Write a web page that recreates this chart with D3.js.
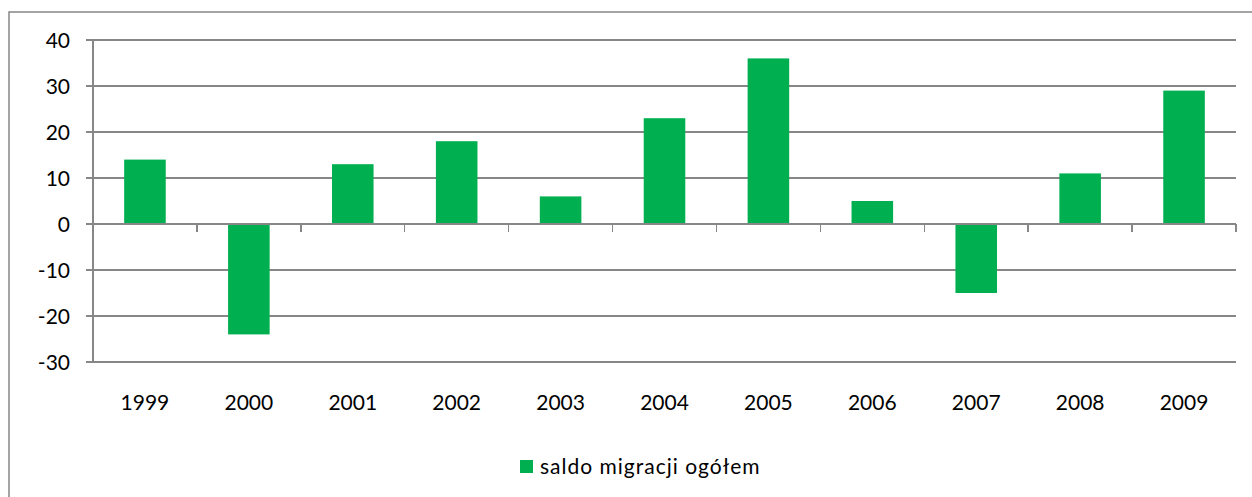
<!DOCTYPE html>
<html><head><meta charset="utf-8">
<script src="https://cdn.jsdelivr.net/npm/d3@7"></script>
<style>body{margin:0;background:#fff}svg{display:block}</style>
</head><body>
<script>
const categories = ["1999","2000","2001","2002","2003","2004","2005","2006","2007","2008","2009"];
const values = [14, -24, 13, 18, 6, 23, 36, 5, -15, 11, 29];
const yTicks = [-30, -20, -10, 0, 10, 20, 30, 40];
const seriesName = "saldo migracji ogółem";

(function () {
const W = 1252, H = 497;
const svg = d3.select("body").append("svg").attr("width", W).attr("height", H);
const font = "Lato, 'Open Sans', sans-serif";
const grey = "#878787";

svg.append("rect").attr("x", 9).attr("y", 12).attr("width", 1260).attr("height", 500)
  .attr("fill", "none").attr("stroke", grey).attr("stroke-width", 1.5);

const pL = 93, pR = 1236, pT = 40, pB = 362;
const x = d3.scaleBand().domain(categories).range([pL, pR]).paddingInner(0.6).paddingOuter(0.3);
const xc = d3.scaleBand().domain(categories).range([pL, pR]);
const y = d3.scaleLinear().domain([-30, 40]).range([pB, pT]);

// gridlines
svg.append("g").selectAll("line").data(yTicks).join("line")
  .attr("x1", pL - 7).attr("x2", pR)
  .attr("y1", d => y(d)).attr("y2", d => y(d))
  .attr("stroke", grey).attr("stroke-width", 1.5).attr("shape-rendering", "crispEdges");

// y axis line
svg.append("line").attr("x1", pL).attr("x2", pL).attr("y1", pT).attr("y2", pB)
  .attr("stroke", grey).attr("stroke-width", 1.5).attr("shape-rendering", "crispEdges");

// y labels
svg.append("g").selectAll("text").data(yTicks).join("text")
  .attr("x", 70).attr("y", d => y(d)).attr("dy", "0.36em")
  .attr("text-anchor", "end").attr("font-family", font).attr("font-size", 21)
  .attr("fill", "#000").text(d => d);

// bars
svg.append("g").selectAll("rect").data(values).join("rect")
  .attr("x", (d, i) => x(categories[i]))
  .attr("width", x.bandwidth())
  .attr("y", d => y(Math.max(0, d)))
  .attr("height", d => Math.abs(y(d) - y(0)))
  .attr("fill", "#00B050");

// x axis at zero
svg.append("line").attr("x1", pL).attr("x2", pR).attr("y1", y(0)).attr("y2", y(0))
  .attr("stroke", grey).attr("stroke-width", 1.5).attr("shape-rendering", "crispEdges");
const bounds = categories.map(c => xc(c)).concat([pR]);
svg.append("g").selectAll("line").data(bounds).join("line")
  .attr("x1", d => d).attr("x2", d => d).attr("y1", y(0)).attr("y2", y(0) + 8)
  .attr("stroke", grey).attr("stroke-width", 1.5).attr("shape-rendering", "crispEdges");

// x labels
svg.append("g").selectAll("text").data(categories).join("text")
  .attr("x", d => xc(d) + xc.bandwidth() / 2).attr("y", 402).attr("dy", "0.36em")
  .attr("text-anchor", "middle").attr("font-family", font).attr("font-size", 21)
  .attr("fill", "#000").text(d => d);

// legend
svg.append("rect").attr("x", 520).attr("y", 460).attr("width", 13).attr("height", 13).attr("fill", "#00B050");
svg.append("text").attr("x", 540).attr("y", 466.5).attr("dy", "0.36em")
  .attr("font-family", font).attr("font-size", 21).attr("letter-spacing", 1)
  .attr("fill", "#000").text(seriesName);
})();
</script>
</body></html>
